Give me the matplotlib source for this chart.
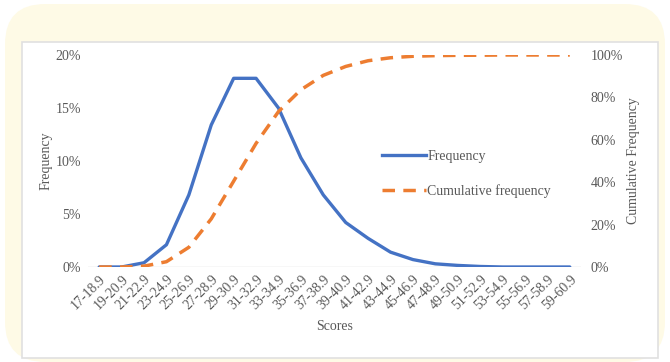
import matplotlib
matplotlib.use("Agg")
import matplotlib.pyplot as plt
from matplotlib.patches import FancyBboxPatch, Rectangle
from matplotlib.ticker import PercentFormatter
from matplotlib.lines import Line2D

plt.rcParams['font.family'] = ['Liberation Serif', 'DejaVu Serif']

# Score bins
categories = ["17-18.9", "19-20.9", "21-22.9", "23-24.9", "25-26.9", "27-28.9",
              "29-30.9", "31-32.9", "33-34.9", "35-36.9", "37-38.9", "39-40.9",
              "41-42.9", "43-44.9", "45-46.9", "47-48.9", "49-50.9", "51-52.9",
              "53-54.9", "55-56.9", "57-58.9", "59-60.9"]

# Frequency (%)
frequency = [0.0, 0.0, 0.4, 2.1, 6.8, 13.4, 17.8, 17.8, 15.0, 10.3, 6.8, 4.2,
             2.7, 1.4, 0.7, 0.3, 0.15, 0.05, 0.0, 0.0, 0.0, 0.0]

# Cumulative frequency (%)
cumulative = [0.0, 0.0, 0.4, 2.5, 9.3, 22.7, 40.5, 58.3, 73.3, 83.6, 90.4, 94.6,
              97.3, 98.7, 99.4, 99.7, 99.85, 99.9, 100.0, 100.0, 100.0, 100.0]

W, H = 670, 362
fig = plt.figure(figsize=(W / 100, H / 100), dpi=100, facecolor="white")

# Background card + white panel (drawn behind the axes)
cream = FancyBboxPatch((5 / W, 0), 660 / W, 358 / H,
                       boxstyle="round,pad=0,rounding_size=0.06",
                       transform=fig.transFigure, facecolor="#FEFAE6",
                       edgecolor="none", zorder=-3, mutation_aspect=W / H)
fig.patches.append(cream)
panel = Rectangle((22 / W, 4 / H), 636 / W, 316 / H, transform=fig.transFigure,
                  facecolor="white", edgecolor="#E0E0E0", linewidth=1.2, zorder=-2)
fig.patches.append(panel)

ax = fig.add_axes([88 / W, (H - 267) / H, 493 / W, 212 / H])
ax.set_facecolor("none")
ax2 = ax.twinx()

x = range(len(categories))
blue = "#4472C4"
orange = "#ED7D31"
dash = (0, (3.6, 2.4))

ax.plot(x, frequency, color=blue, linewidth=2.4, solid_capstyle="round", zorder=3)
ax2.plot(x, cumulative, color=orange, linewidth=2.5, linestyle=dash, zorder=2)

ax.set_xlim(-0.5, len(categories) - 0.5)
ax.set_ylim(0, 20)
ax2.set_ylim(0, 100)
ax.set_yticks([0, 5, 10, 15, 20])
ax2.set_yticks([0, 20, 40, 60, 80, 100])
ax.yaxis.set_major_formatter(PercentFormatter(decimals=0))
ax2.yaxis.set_major_formatter(PercentFormatter(decimals=0))

for a in (ax, ax2):
    for s in a.spines.values():
        s.set_visible(False)
    a.tick_params(length=0, labelsize=10, colors="#595959")
ax.axhline(0, color="#D9D9D9", linewidth=1, zorder=1)

ax.set_xticks(list(x))
ax.set_xticklabels(categories, rotation=45, ha="right", rotation_mode="anchor")
ax.tick_params(axis="x", pad=4)
ax.tick_params(axis="y", pad=5)
ax2.tick_params(axis="y", pad=7)

ax.set_xlabel("Scores", fontsize=10, color="#595959", labelpad=6)
ax.set_ylabel("Frequency", fontsize=10, color="#595959", labelpad=2)
ax2.set_ylabel("Cumulative Frequency", fontsize=10, color="#595959", labelpad=3)

handles = [Line2D([], [], color=blue, linewidth=2.4),
           Line2D([], [], color=orange, linewidth=2.5, linestyle=dash)]
leg = ax.legend(handles, ["Frequency", "Cumulative frequency"],
                loc="center left", bbox_to_anchor=(0.57, 0.44), frameon=False,
                fontsize=10, handlelength=3.2, handletextpad=0.1,
                labelspacing=1.5, labelcolor="#595959")

fig.savefig("out.png", dpi=100, facecolor=fig.get_facecolor())
